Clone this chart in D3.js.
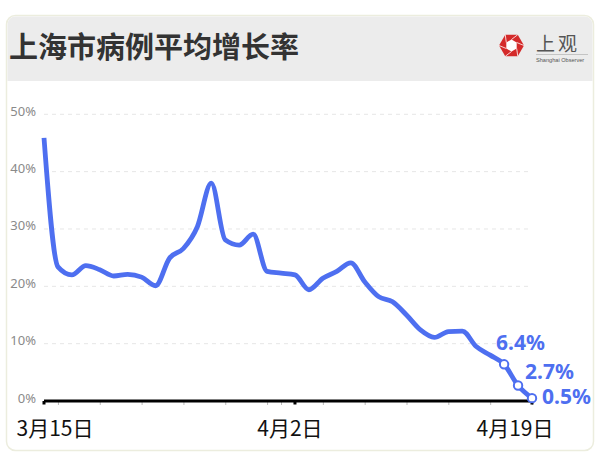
<!DOCTYPE html>
<html><head><meta charset="utf-8">
<script src="https://cdn.jsdelivr.net/npm/d3@7/dist/d3.min.js"></script>
<style>
html,body{margin:0;padding:0;background:#fff;}
svg{display:block;font-family:"Noto Sans CJK SC","Noto Sans",sans-serif;}
</style></head>
<body><svg id="c" width="600" height="465"></svg>
<script>
const title = "上海市病例平均增长率";
const startDate = "2022-03-15";
const values = [45.9, 23.4, 22.0, 23.6, 22.9, 21.8, 22.1, 21.6, 20.1, 24.9, 26.6, 30.4, 38.0, 28.1, 27.2, 29.1, 22.6, 22.3, 22.0, 19.4, 21.4, 22.6, 24.1, 20.8, 18.2, 17.3, 15.0, 12.4, 11.1, 12.1, 12.2, 9.5, 8.0, 6.4, 2.7, 0.5];
const yTicks = [0, 10, 20, 30, 40, 50];
const xLabelDates = ["2022-03-15", "2022-04-02", "2022-04-19"];
const xLabels = ["3月15日", "4月2日", "4月19日"];
const labelledLast = 3;

const parse = d3.timeParse("%Y-%m-%d");
const t0 = parse(startDate);
const data = values.map((v, i) => ({date: d3.timeDay.offset(t0, i), v}));

const svg = d3.select("#c");
// card
svg.append("rect").attr("x", 6.5).attr("y", 15.5).attr("width", 587).attr("height", 435)
  .attr("rx", 9).attr("fill", "#fff").attr("stroke", "#ecedde").attr("stroke-width", 1.5);
// header
const hdr = d3.path();
hdr.moveTo(7.5, 81); hdr.lineTo(7.5, 24); hdr.arcTo(7.5, 16.5, 15, 16.5, 8);
hdr.lineTo(585, 16.5); hdr.arcTo(592.5, 16.5, 592.5, 24, 8); hdr.lineTo(592.5, 81); hdr.closePath();
svg.append("path").attr("d", hdr.toString()).attr("fill", "#ececec");
svg.append("text").attr("x", 9).attr("y", 58).attr("font-size", 29).attr("font-weight", 700)
  .attr("fill", "#333").text(title);

// logo
const lg = svg.append("g").attr("transform", "translate(511.5,45.5)");
const hex = (r, rot) => d3.range(6).map(k => { const a = rot + k * Math.PI / 3; return [r * Math.cos(a), r * Math.sin(a)]; });
lg.append("polygon").attr("points", hex(12.5, 0).map(p => p.join(",")).join(" ")).attr("fill", "#d42a2a");
const inner = hex(6, Math.PI / 6);
lg.append("polygon").attr("points", inner.map(p => p.join(",")).join(" ")).attr("fill", "#fff");
inner.forEach((p, k) => {
  const q = hex(12.5, 0)[(k + 1) % 6];
  lg.append("line").attr("x1", p[0]).attr("y1", p[1]).attr("x2", q[0]).attr("y2", q[1])
    .attr("stroke", "#fff").attr("stroke-width", 0.8);
});
svg.append("text").attr("x", 536).attr("y", 51).attr("font-size", 19).attr("fill", "#555")
  .attr("font-family", "Noto Sans CJK SC").attr("letter-spacing", 3).text("上观");
svg.append("line").attr("x1", 536).attr("x2", 588).attr("y1", 54.5).attr("y2", 54.5).attr("stroke", "#aaa").attr("stroke-width", 0.6);
svg.append("text").attr("x", 536).attr("y", 61.5).attr("font-size", 5.6).attr("fill", "#555")
  .attr("font-family", "Liberation Sans, Arial").text("Shanghai Observer");

// scales
const x = d3.scaleTime().domain([t0, data[data.length - 1].date]).range([44, 532]);
const y = d3.scaleLinear().domain([0, 50]).range([401, 114.3]);

// grid
const grid = svg.append("g");
grid.selectAll("line").data(yTicks.filter(d => d > 0)).join("line")
  .attr("x1", 44).attr("x2", 531).attr("y1", d => y(d)).attr("y2", d => y(d))
  .attr("stroke", "#e6e6e6").attr("stroke-width", 1).attr("stroke-dasharray", "4,4");
svg.append("g").selectAll("text").data(yTicks).join("text")
  .attr("x", 36).attr("y", d => y(d) + 1.5).attr("text-anchor", "end")
  .attr("font-size", 13).attr("fill", "#8a8a8a").attr("font-family", "Noto Sans, sans-serif")
  .text(d => d + "%");

// x axis
const xAxis = d3.axisBottom(x).ticks(d3.timeDay.every(3)).tickSize(4).tickFormat("");
const ax = svg.append("g").attr("transform", "translate(0,401)").call(xAxis);
ax.select(".domain").remove();
ax.selectAll(".tick line").attr("stroke", "#bbb").attr("stroke-width", 1);
ax.append("line").attr("x1", 44).attr("x2", 532).attr("stroke", "#000").attr("stroke-width", 3.2);
const majors = xLabelDates.map(parse);
ax.selectAll(".major").data(majors).join("rect").attr("class", "major")
  .attr("x", d => x(d) - 1.5).attr("y", 0).attr("width", 3).attr("height", 3.5).attr("fill", "#000");
const xdx = [11, -5, -17];
svg.append("g").selectAll("text").data(majors).join("text")
  .attr("x", (d, i) => x(d) + xdx[i]).attr("y", 435.5).attr("text-anchor", "middle")
  .attr("font-size", 21).attr("fill", "#111").text((d, i) => xLabels[i]);

// line
const blue = "#4e6ff0";
const line = d3.line().x(d => x(d.date)).y(d => y(d.v)).curve(d3.curveMonotoneX);
svg.append("path").datum(data).attr("d", line).attr("fill", "none")
  .attr("stroke", blue).attr("stroke-width", 4.8).attr("stroke-linejoin", "round").attr("stroke-linecap", "butt");

const last = data.slice(-labelledLast);
svg.append("g").selectAll("circle").data(last).join("circle")
  .attr("cx", d => x(d.date)).attr("cy", d => y(d.v)).attr("r", 4.2)
  .attr("fill", "#fff").attr("stroke", blue).attr("stroke-width", 2);
const ldx = [-8, 7, 10];
const ldy = [-14, -6.5, 6];
svg.append("g").selectAll("text").data(last).join("text")
  .attr("x", (d, i) => x(d.date) + ldx[i]).attr("y", (d, i) => y(d.v) + ldy[i])
  .attr("font-size", 21).attr("font-weight", 700).attr("fill", blue)
  .attr("font-family", "Noto Sans, sans-serif").text(d => d.v.toFixed(1) + "%");
</script></body></html>
